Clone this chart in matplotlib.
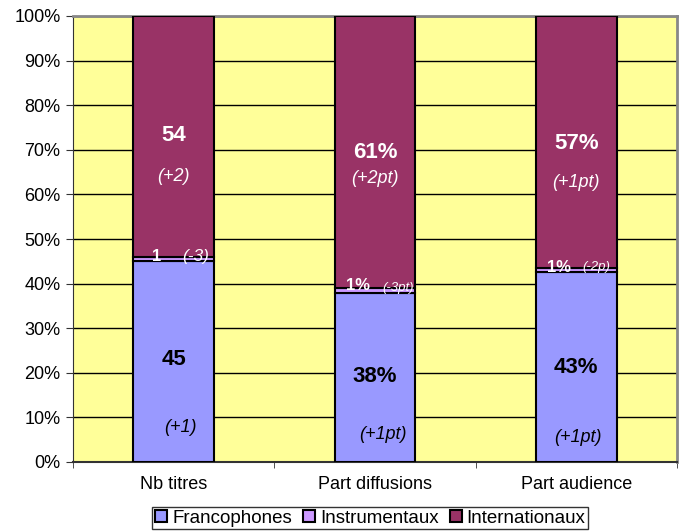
import matplotlib.pyplot as plt
import numpy as np

plt.rcParams['font.family'] = ['Liberation Sans', 'DejaVu Sans']

# donnees
categories = ['Nb titres', 'Part diffusions', 'Part audience']
series = ['Francophones', 'Instrumentaux', 'Internationaux']
francophones = [45, 38, 43]
instrumentaux = [1, 1, 1]
internationaux = [54, 61, 57]
couleurs = ['#9999FF', '#CC99FF', '#993366']

# etiquettes
lab_franco = ['45', '38%', '43%']
lab_franco_evol = ['(+1)', '(+1pt)', '(+1pt)']
lab_instr = ['1', '1%', '1%']
lab_instr_evol = ['(-3)', '(-3pt)', '(-2p)']
lab_inter = ['54', '61%', '57%']
lab_inter_evol = ['(+2)', '(+2pt)', '(+1pt)']

vals = np.array([francophones, instrumentaux, internationaux], dtype=float)
pct = vals / vals.sum(axis=0) * 100

fig = plt.figure(figsize=(6.82, 5.31), dpi=100)
ax = fig.add_axes([73 / 682, 69 / 531, 604 / 682, 446 / 531])
ax.set_facecolor('#FFFF99')

x = np.arange(len(categories))
bas = np.zeros(len(categories))
for i in range(3):
    ax.bar(x, pct[i], 0.4, bottom=bas, color=couleurs[i], edgecolor='black',
           linewidth=1.5, label=series[i], zorder=3)
    bas += pct[i]

ax.set_xlim(-0.5, 2.5)
ax.set_ylim(0, 100)
ax.set_yticks(np.arange(0, 101, 10))
ax.set_yticklabels([f'{v}%' for v in range(0, 101, 10)], fontsize=13)
ax.set_xticks(x)
ax.set_xticklabels(categories, fontsize=13)
ax.tick_params(axis='x', length=0, pad=10)
ax.tick_params(axis='y', direction='out', length=5, color='#333333', pad=4)
ax.set_xticks([-0.5, 0.5, 1.5, 2.5], minor=True)
ax.tick_params(axis='x', which='minor', direction='out', length=4, color='#333333')
ax.yaxis.grid(True, color='black', linewidth=1, zorder=1)

for s in ['top', 'right']:
    ax.spines[s].set_color('#888888')
    ax.spines[s].set_linewidth(2)
ax.spines['left'].set_color('#333333')
ax.spines['bottom'].set_color('#333333')
ax.spines['bottom'].set_linewidth(1.5)

# positions des etiquettes (en % de l'axe)
y_franco = [22.9, 19.1, 21.3]
y_franco_evol = [7.8, 6.1, 5.6]
dx_franco_evol = [0.035, 0.04, 0.01]
y_inter = [73.1, 69.5, 71.5]
y_inter_evol = [64.1, 63.5, 62.6]
y_instr = [46.0, 39.5, 43.7]
y_instr_evol = [46.0, 39.1, 43.7]
dx_instr_evol = [0.11, 0.117, 0.097]
fs_instr_evol = [12.5, 9.5, 9.5]
for i in range(3):
    ax.text(x[i], y_franco[i], lab_franco[i], ha='center', va='center',
            fontsize=16, fontweight='bold', zorder=5)
    ax.text(x[i] + dx_franco_evol[i], y_franco_evol[i], lab_franco_evol[i],
            ha='center', va='center', fontsize=13, style='italic', zorder=5)
    ax.text(x[i], y_inter[i], lab_inter[i], ha='center', va='center',
            fontsize=16, fontweight='bold', color='white', zorder=5)
    ax.text(x[i], y_inter_evol[i], lab_inter_evol[i], ha='center', va='center',
            fontsize=13, style='italic', color='white', zorder=5)
    ax.text(x[i] - 0.085, y_instr[i], lab_instr[i], ha='center', va='center',
            fontsize=12, fontweight='bold', color='white', zorder=5)
    ax.text(x[i] + dx_instr_evol[i], y_instr_evol[i], lab_instr_evol[i],
            ha='center', va='center', fontsize=fs_instr_evol[i],
            style='italic', color='white', zorder=5)

leg = fig.legend(loc='lower center', bbox_to_anchor=(0.543, 0.003), ncol=3,
                 fontsize=13.5, frameon=True, fancybox=False, edgecolor='black',
                 handlelength=0.65, handleheight=0.65, handletextpad=0.25,
                 columnspacing=0.6, borderpad=0.15, borderaxespad=0.0)
leg.get_frame().set_linewidth(1)
for h in leg.legend_handles:
    h.set_linewidth(1.5)

fig.savefig('out.png', dpi=100)
